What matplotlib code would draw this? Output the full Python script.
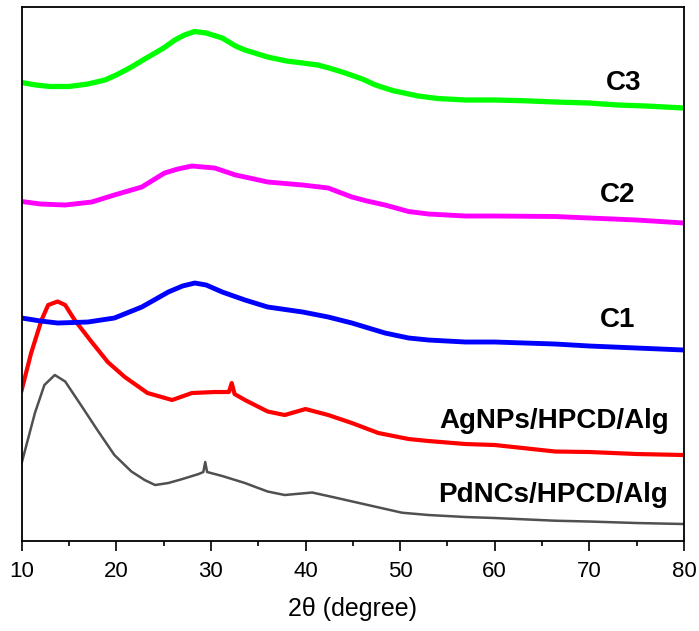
import matplotlib
matplotlib.use("Agg")
import matplotlib.pyplot as plt

plt.rcParams['font.family'] = ['Liberation Sans', 'DejaVu Sans']

# XRD patterns, intensity in arbitrary units (curves already offset)
pd_x = [10, 11.4, 12.4, 13.5, 14.6, 16.4, 18, 19.8, 21.6, 23, 24.1, 25.5, 27, 28.7, 29.2, 29.4, 29.6,
        31.2, 33.6, 35, 36, 37.8, 40.7, 43.1, 46.6, 50.2, 53, 56.9, 60, 66.4, 70, 75, 80]
pd_y = [78, 128, 156, 166, 159.5, 134, 111, 86, 69.5, 61, 56, 58, 62, 67, 69, 79, 69,
        65, 58, 53, 49.5, 46, 48.5, 43.5, 36, 28.3, 26, 24, 23, 20.3, 19.5, 18, 17]

ag_x = [10, 11, 12.1, 12.8, 13.8, 14.6, 15.6, 17.4, 19.1, 20.9, 23.3, 25.9, 28, 30.4, 31.9, 32.2, 32.5,
        33.6, 36, 37.8, 40, 42.4, 44.9, 47.7, 50.9, 53, 56.9, 60, 66.4, 70, 75, 80]
ag_y = [151, 188, 221, 236, 239.5, 236, 221, 199, 179, 164, 148, 141, 148, 149, 149, 158, 147,
        141, 129.5, 126, 132, 126, 118, 108, 102, 100, 97, 96, 89.5, 89, 87, 86]

c1_x = [10, 12, 13.8, 17, 19.8, 22.7, 25.5, 27, 28.3, 29.5, 31.2, 33.6, 36, 39.7, 42.4, 44.9,
        48.4, 50.9, 53, 56.9, 60, 66.4, 70, 75, 80]
c1_y = [223, 220, 218, 219, 223, 234, 249, 255, 258, 256, 249, 241, 234, 229, 224, 218,
        208, 203, 201, 199, 199, 197, 195, 193, 191]

c2_x = [10, 12, 14.6, 17.4, 19.8, 22.7, 25.1, 26.5, 28, 30.4, 32.6, 33.6, 36, 39.7, 42.4, 44.9,
        46.5, 48.4, 50.9, 53, 56.9, 60, 66.4, 70, 75, 80]
c2_y = [339.5, 337, 336, 339, 346, 354, 368, 372, 375, 373, 366, 364, 359, 356, 353, 344,
        340, 336, 329.5, 327, 325, 325, 324.5, 323, 321, 318]

c3_x = [10, 11.5, 13, 15, 17, 18.8, 20, 21.6, 23, 24.1, 25, 26.2, 27.2, 28.3, 29.5, 31.2, 32.6,
        33.6, 36, 38, 39.7, 41.3, 42.5, 44.2, 46, 47.4, 49.2, 51.9, 54, 56.9, 60, 63, 66.4,
        69.9, 73, 76, 80]
c3_y = [458.5, 456, 454.5, 454.5, 457, 461, 466, 474, 482, 488, 493, 501, 506, 509.5, 508, 503, 495,
        491, 484, 480, 478, 476, 473, 468, 462, 456, 450.5, 445, 442.5, 441, 441, 440.3, 439,
        438, 436, 435, 433]

fig = plt.figure(figsize=(6.99, 6.31), dpi=100)
ax = fig.add_axes([0.031, 0.1426, 0.9475, 0.8463])

ax.plot(pd_x, pd_y, color='#505050', lw=1.8)
ax.plot(ag_x, ag_y, color='#ff0000', lw=3.0)
ax.plot(c1_x, c1_y, color='#0000ff', lw=3.5)
ax.plot(c2_x, c2_y, color='#ff00ff', lw=3.5)
ax.plot(c3_x, c3_y, color='#00ff00', lw=3.8)

# curve labels
lab = dict(fontsize=20, fontweight='bold', ha='right', va='baseline')
ax.text(75.5, 451, 'C3', **lab)
ax.text(74.9, 339, 'C2', **lab)
ax.text(74.9, 214, 'C1', **lab)
ax.text(78.4, 113, 'AgNPs/HPCD/Alg', **lab)
ax.text(78.3, 39, 'PdNCs/HPCD/Alg', **lab)

ax.set_xlim(10, 80)
ax.set_ylim(0, 534)
ax.set_xticks(range(10, 81, 10))
ax.set_xticks(range(15, 80, 10), minor=True)
ax.set_yticks([])
ax.tick_params(axis='x', which='major', direction='out', length=7.2, width=1.2,
               labelsize=16, pad=7)
ax.tick_params(axis='x', which='minor', direction='out', length=3.6, width=1.2)
for s in ax.spines.values():
    s.set_linewidth(1.3)

ax.set_xlabel('2\u03b8 (degree)', fontsize=18, labelpad=11)

fig.savefig('out.png', dpi=100)
